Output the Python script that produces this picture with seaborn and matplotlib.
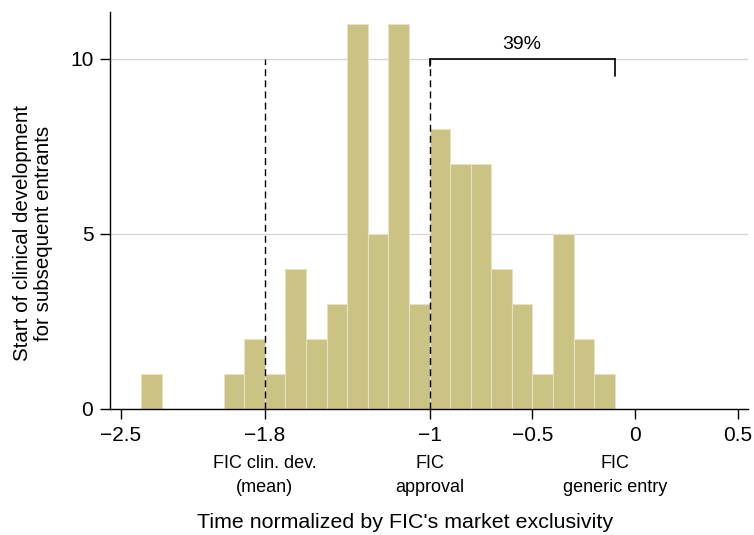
import numpy as np
import pandas as pd
import matplotlib
matplotlib.use("Agg")
import matplotlib.pyplot as plt
import matplotlib.transforms as mtransforms
import seaborn as sns

# Data: histogram bins (left edges, width 0.1) and counts
bin_lefts = [-2.4, -2.0, -1.9, -1.8, -1.7, -1.6, -1.5, -1.4, -1.3, -1.2, -1.1,
             -1.0, -0.9, -0.8, -0.7, -0.6, -0.5, -0.4, -0.3, -0.2]
counts = [1, 1, 2, 1, 4, 2, 3, 11, 5, 11, 3, 8, 7, 7, 4, 3, 1, 5, 2, 1]
bin_width = 0.1

xticks = [-2.5, -1.8, -1.0, -0.5, 0.0, 0.5]
xtick_labels = ["\u22122.5", "\u22121.8", "\u22121", "\u22120.5", "0", "0.5"]
yticks = [0, 5, 10]

event_x = [-1.8, -1.0, -0.1]
event_labels = ["FIC clin. dev.\n(mean)", "FIC\napproval", "FIC\ngeneric entry"]
bracket_label = "39%"
bracket_start = -1.0
bracket_end = -0.1
bracket_level = 10

sns.set_theme(style="white")
plt.rcParams["font.family"] = ["Liberation Sans", "DejaVu Sans"]
for k in ["text.color", "axes.labelcolor", "xtick.color", "ytick.color"]:
    plt.rcParams[k] = "black"

df = pd.DataFrame({"x": np.array(bin_lefts) + bin_width / 2,
                   "w": np.array(counts, dtype=float)})

fig = plt.figure(figsize=(7.54, 5.35), dpi=100)
ax = fig.add_axes([110 / 754, 1 - 409 / 535, (748 - 110) / 754, (409 - 12) / 535])

ax.grid(axis="y", color="#d4d4d4", linewidth=0.9, zorder=0)
ax.set_axisbelow(True)

sns.histplot(data=df, x="x", weights="w", binwidth=bin_width,
             binrange=(min(bin_lefts), max(bin_lefts) + bin_width), ax=ax,
             color="#cbc383", alpha=1.0, edgecolor="#e6e2c2", linewidth=0.8,
             zorder=2)

ax.set_xlim(-2.553, 0.548)
ax.set_ylim(0, 11.34)

# dashed reference lines
ax.vlines([event_x[0], event_x[1]], 0, bracket_level, colors="black",
          linestyles=(0, (5, 3)), linewidth=1.0, zorder=3)
# bracket
ax.plot([bracket_start, bracket_end], [bracket_level, bracket_level],
        color="black", linewidth=1.2, zorder=4)
ax.plot([bracket_start, bracket_start], [bracket_level, bracket_level - 0.2],
        color="black", linewidth=1.2, zorder=4)
ax.plot([bracket_end, bracket_end], [bracket_level, bracket_level - 0.49],
        color="black", linewidth=1.2, zorder=4)
ax.text((bracket_start + bracket_end) / 2, bracket_level + 0.17, bracket_label,
        ha="center", va="bottom", fontsize=14, color="black")

ax.set_xticks(xticks)
ax.set_xticklabels(xtick_labels)
ax.set_yticks(yticks)
ax.tick_params(axis="both", which="major", labelsize=15, length=7, width=1,
               color="black", direction="out", bottom=True, left=True, pad=5)

for s in ["top", "right"]:
    ax.spines[s].set_visible(False)
for s in ["left", "bottom"]:
    ax.spines[s].set_color("black")
    ax.spines[s].set_linewidth(1.0)

ax.set_ylabel("Start of clinical development\nfor subsequent entrants",
              fontsize=14.8, labelpad=12, linespacing=1.15)
ax.yaxis.label.set_y((409 - 233) / 397)
ax.set_xlabel("")

trans = mtransforms.blended_transform_factory(ax.transData, ax.transAxes)
for xv, lab in zip(event_x, event_labels):
    ax.text(xv, -(455 - 409) / 397, lab, transform=trans, ha="center",
            va="top", fontsize=13, linespacing=1.5)

fig.text(405 / 754, 1 - 523 / 535,
         "Time normalized by FIC's market exclusivity",
         ha="center", va="center", fontsize=15.4)

fig.savefig("out.png", dpi=100)
